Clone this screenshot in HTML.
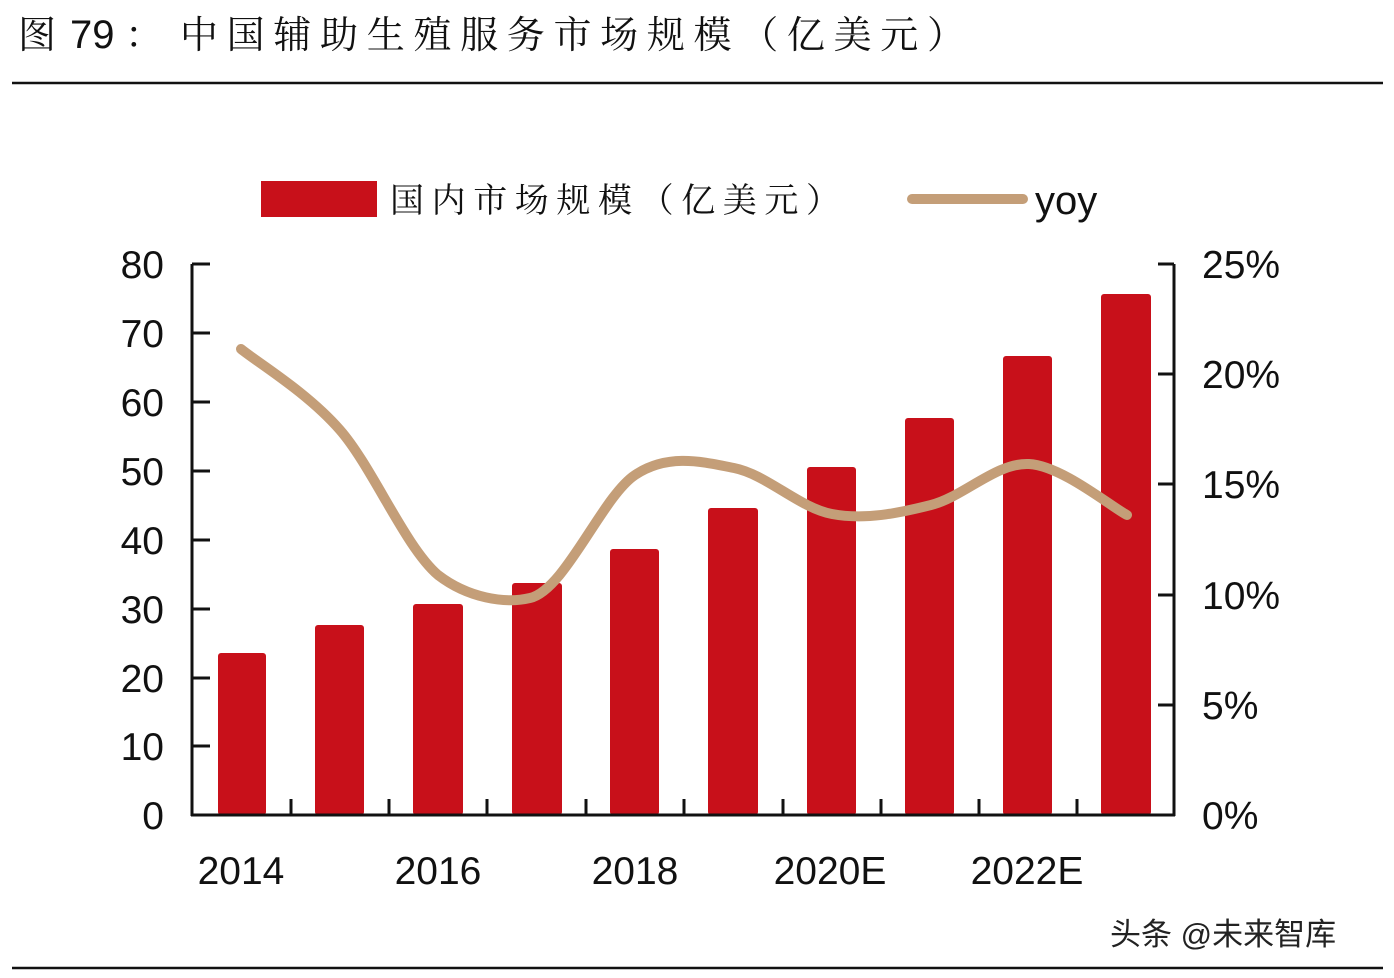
<!DOCTYPE html>
<html><head><meta charset="utf-8"><style>
html,body{margin:0;padding:0;background:#fff;}
svg{display:block;}
</style></head><body>
<svg width="1394" height="978" viewBox="0 0 1394 978" xmlns="http://www.w3.org/2000/svg">
<rect width="1394" height="978" fill="#fff"/>
<text x="18" y="48" font-family="Liberation Serif, Noto Serif CJK SC, serif" font-size="38" fill="#111">图</text>
<text x="70" y="48" font-family="Liberation Sans, sans-serif" font-size="40" fill="#111">79</text>
<text x="125" y="48" font-family="Liberation Serif, Noto Serif CJK SC, serif" font-size="38" fill="#111">：</text>
<text x="180" y="48" font-family="Liberation Serif, Noto Serif CJK SC, serif" font-size="38" fill="#111" textLength="785" lengthAdjust="spacing">中国辅助生殖服务市场规模（亿美元）</text>
<line x1="12" y1="83" x2="1383" y2="83" stroke="#111" stroke-width="2.5"/>
<line x1="12" y1="968" x2="1383" y2="968" stroke="#111" stroke-width="2.5"/>

<rect x="261" y="181" width="116" height="36" fill="#c8101a"/>
<text x="390" y="212" font-family="Liberation Serif, Noto Serif CJK SC, serif" font-size="34" fill="#111" textLength="450" lengthAdjust="spacing">国内市场规模（亿美元）</text>
<line x1="912" y1="199" x2="1023" y2="199" stroke="#c49e78" stroke-width="10" stroke-linecap="round"/>
<text x="1035" y="214" font-family="Liberation Sans, sans-serif" font-size="40" fill="#111">yoy</text>

<g fill="#c8101a">
<rect x="218" y="653" width="48" height="162" rx="3"/>
<rect x="315" y="625" width="49" height="190" rx="3"/>
<rect x="413" y="604" width="50" height="211" rx="3"/>
<rect x="512" y="583" width="50" height="232" rx="3"/>
<rect x="610" y="549" width="49" height="266" rx="3"/>
<rect x="708" y="508" width="50" height="307" rx="3"/>
<rect x="807" y="467" width="49" height="348" rx="3"/>
<rect x="905" y="418" width="49" height="397" rx="3"/>
<rect x="1003" y="356" width="49" height="459" rx="3"/>
<rect x="1101" y="294" width="50" height="521" rx="3"/>
</g>

<g stroke="#111" stroke-width="3" fill="none">
<line x1="192" y1="264" x2="192" y2="816"/>
<line x1="1174" y1="264" x2="1174" y2="816"/>
<line x1="191" y1="815" x2="1175" y2="815"/>
<path d="M192 264h18M192 333h18M192 402h18M192 471h18M192 540h18M192 609h18M192 678h18M192 746h18"/>
<path d="M1174 264h-16M1174 374h-16M1174 484h-16M1174 595h-16M1174 705h-16"/>
<path d="M291 815v-16M389 815v-16M487 815v-16M586 815v-16M684 815v-16M783 815v-16M881 815v-16M979 815v-16M1077 815v-16"/>
</g>

<path d="M241 349 C257.5 362.5 307.2 392.3 340 430 C372.8 467.7 405.2 547 438 575 C468 598 505 604 530 598 C565 590 602.2 496.7 635 475 C667.8 453.3 701.2 461.5 734 468 C766.8 474.5 799.2 507.8 832 514 C864.8 520.2 898.2 513.3 931 505 C963.8 496.7 996.3 462.3 1029 464 C1061.7 465.7 1110.7 506.5 1127 515" fill="none" stroke="#c49e78" stroke-width="10" stroke-linecap="round"/>

<g font-family="Liberation Sans, sans-serif" font-size="39" fill="#111" text-anchor="end">
<text x="164" y="278">80</text>
<text x="164" y="347">70</text>
<text x="164" y="416">60</text>
<text x="164" y="485">50</text>
<text x="164" y="554">40</text>
<text x="164" y="623">30</text>
<text x="164" y="692">20</text>
<text x="164" y="760">10</text>
<text x="164" y="829">0</text>
</g>
<g font-family="Liberation Sans, sans-serif" font-size="39" fill="#111" text-anchor="start">
<text x="1202" y="278">25%</text>
<text x="1202" y="388">20%</text>
<text x="1202" y="498">15%</text>
<text x="1202" y="609">10%</text>
<text x="1202" y="719">5%</text>
<text x="1202" y="829">0%</text>
</g>
<g font-family="Liberation Sans, sans-serif" font-size="39" fill="#111" text-anchor="middle">
<text x="241" y="884">2014</text>
<text x="438" y="884">2016</text>
<text x="635" y="884">2018</text>
<text x="830" y="884">2020E</text>
<text x="1027" y="884">2022E</text>
</g>
<text x="1110" y="945" font-family="Liberation Sans, Noto Sans CJK SC, sans-serif" font-size="31" fill="#222">头条 @未来智库</text>
</svg>
</body></html>
